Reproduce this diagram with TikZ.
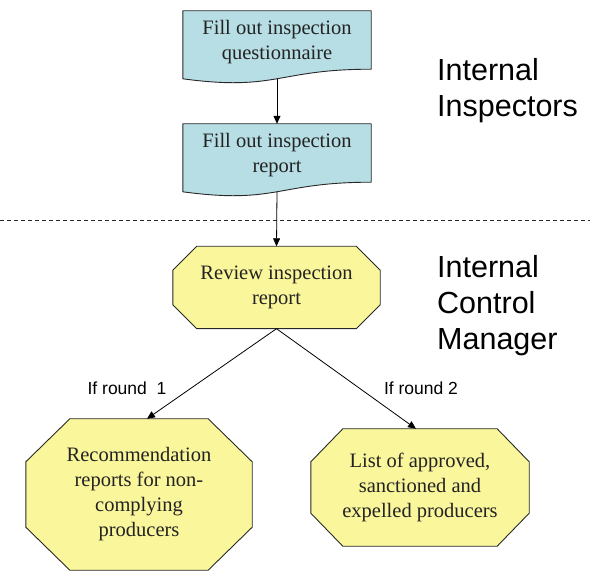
\documentclass[tikz,border=0pt]{standalone}
\usepackage{fontspec}
\setmainfont{Liberation Serif}
\newfontfamily\labelfont{Liberation Sans}
\usetikzlibrary{arrows.meta}
\pgfdeclarelayer{bg}
\pgfsetlayers{bg,main}
\definecolor{docblue}{RGB}{183,222,228}
\definecolor{octyellow}{RGB}{250,246,155}
\definecolor{edgegray}{RGB}{40,40,40}
\definecolor{textgray}{RGB}{35,35,35}
\tikzset{
  shapebox/.style={rectangle, inner sep=0pt, draw=none, align=center, text=textgray,
    font=\fontsize{20.5}{25}\selectfont},
  docshape/.style={fill=docblue, draw=edgegray, line width=0.9pt, line join=round},
  octshape/.style={fill=octyellow, draw=edgegray, line width=0.9pt, line join=round},
  boxtext/.style={inner sep=0pt, align=center, text=textgray, font=\fontsize{20.5}{25}\selectfont},
  bigtext/.style={inner sep=0pt, anchor=base west, font=\labelfont\fontsize{30.5}{35}\selectfont},
  roundlabel/.style={inner sep=0pt, anchor=base, font=\labelfont\fontsize{17.5}{21}\selectfont},
  flow/.style={draw=black, line width=0.8pt, -{Triangle[length=8pt,width=7pt]}},
  divider/.style={draw=edgegray, line width=0.8pt, dash pattern=on 4pt off 3pt},
}
\newcommand\docoutline[1]{%
  \draw[docshape] (#1.north west) -- (#1.north east) -- ([yshift=-58.4pt]#1.north east)
    .. controls ([yshift=-58.4pt]#1.north) and ([yshift=-80.7pt]#1.north) ..
    ([yshift=-68pt]#1.north west) -- cycle;}
\newcommand\octoutline[3]{%
  \draw[octshape] ([xshift=#2]#1.north west) -- ([xshift=-#2]#1.north east)
    -- ([yshift=-#3]#1.north east) -- ([yshift=#3]#1.south east)
    -- ([xshift=-#2]#1.south east) -- ([xshift=#2]#1.south west)
    -- ([yshift=#3]#1.south west) -- ([yshift=-#3]#1.north west) -- cycle;}
\begin{document}
\begin{tikzpicture}[x=1pt,y=-1pt]
\useasboundingbox (0,0) rectangle (590,572);
% document shapes (outline frames)
\node[shapebox, minimum width=188pt, minimum height=72.8pt] (d1) at (277,47.4) {};
\node[shapebox, minimum width=188pt, minimum height=72.8pt] (d2) at (277,160.4) {};
\coordinate (d1b) at ([yshift=-68pt]d1.north);
\coordinate (d2b) at ([yshift=-68pt]d2.north);
\node[boxtext] (t1) at (277,42) {Fill out inspection\\questionnaire};
\node[boxtext] (t2) at (277,155) {Fill out inspection\\report};
% octagons
\node[shapebox, minimum width=207pt, minimum height=82pt] (o1) at (276.5,287.5) {Review inspection\\report};
\node[shapebox, minimum width=226pt, minimum height=151pt] (o2) at (139,494.5) {Recommendation\\reports for non-\\complying\\producers};
\node[shapebox, minimum width=218pt, minimum height=117pt] (o3) at (420,487.5) {List of approved,\\sanctioned and\\expelled producers};
\begin{pgfonlayer}{bg}
  \docoutline{d1}
  \docoutline{d2}
  \octoutline{o1}{24pt}{24pt}
  \octoutline{o2}{44pt}{43pt}
  \octoutline{o3}{32pt}{33pt}
\end{pgfonlayer}
% divider
\coordinate (dl) at (0,220);
\coordinate (dr) at (590,220);
\draw[divider] (dl) -- (dr);
% connectors
\draw[flow] (d1b) -- (d2.north);
\draw[flow] (d2b) -- (o1.north);
\draw[flow] (o1.south) -- ([xshift=8pt]o2.north);
\draw[flow] (o1.south) -- ([xshift=-4pt]o3.north);
% labels
\node[roundlabel] (r1) at (127,395) {If round~ 1};
\node[roundlabel] (r2) at (421,395) {If round 2};
\node[bigtext] (i1) at (437,81) {Internal};
\node[bigtext] (i2) at (437,117) {Inspectors};
\node[bigtext] (m1) at (437,278) {Internal};
\node[bigtext] (m2) at (437,314) {Control};
\node[bigtext] (m3) at (437,350) {Manager};
\end{tikzpicture}
\end{document}
